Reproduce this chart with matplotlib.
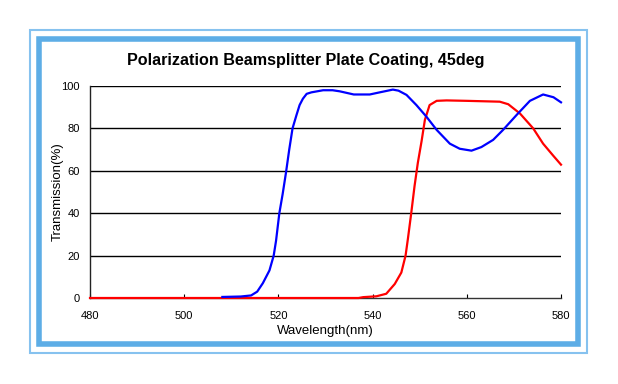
import matplotlib
matplotlib.use("Agg")
import matplotlib.pyplot as plt
from matplotlib.patches import Rectangle

plt.rcParams["font.family"] = ["Liberation Sans", "DejaVu Sans"]

# blue curve
blue_nm = [508.1, 512.0, 514.2, 515.5, 516.7, 518.1, 519.0, 519.5, 520.2, 520.9,
           521.6, 522.3, 523.0, 523.8, 524.5, 525.2, 526.0, 527.0, 529.5, 531.5,
           533.0, 536.0, 539.4, 541.5, 544.3, 545.5, 547.2, 549.3, 551.4, 553.6,
           556.4, 558.5, 561.0, 563.1, 565.6, 567.7, 570.6, 573.4, 576.2, 578.4, 580.0]
blue_t = [0.5, 0.7, 1.2, 3.0, 7.0, 13.0, 20.0, 27.0, 40.0, 49.0,
          59.0, 70.0, 80.0, 86.0, 91.0, 94.0, 96.3, 97.0, 98.0, 98.0,
          97.5, 96.0, 96.0, 97.0, 98.3, 97.8, 95.8, 91.0, 85.6, 79.3,
          72.8, 70.4, 69.5, 71.2, 74.6, 79.3, 86.4, 93.0, 96.0, 94.7, 92.3]

# red curve
red_nm = [480.0, 537.0, 538.0, 540.8, 542.9, 544.7, 546.1, 547.0, 547.5, 548.2,
          548.9, 549.6, 550.4, 551.1, 552.1, 553.6, 555.7, 560.0, 567.0, 568.8,
          571.3, 574.1, 576.2, 578.4, 580.0]
red_t = [0.0, 0.0, 0.4, 0.8, 2.0, 6.6, 12.0, 20.0, 28.0, 40.0,
         52.7, 63.7, 74.0, 84.0, 91.0, 93.0, 93.2, 93.0, 92.6, 91.4,
         87.0, 80.0, 72.8, 67.0, 62.9]

x_ticks = [480, 500, 520, 540, 560, 580]
y_ticks = [0, 20, 40, 60, 80, 100]

W, H = 618, 384
fig = plt.figure(figsize=(W / 100, H / 100), dpi=100)
fig.patch.set_facecolor("white")

# frame: thin outer line and thick inner band
fig.patches.append(Rectangle((29.5 / W, 1 - 353 / H), (587 - 29.5) / W, (353 - 29.5) / H,
                             transform=fig.transFigure, fill=False,
                             edgecolor="#86c2ef", linewidth=1.5))
fig.patches.append(Rectangle((39 / W, 1 - 344 / H), (578 - 39) / W, (344 - 39) / H,
                             transform=fig.transFigure, fill=False,
                             edgecolor="#5dade6", linewidth=4.0))

ax = fig.add_axes([90 / W, 1 - 298 / H, (561 - 90) / W, (298 - 86) / H])
ax.set_xlim(480, 580)
ax.set_ylim(0, 100)

for yv in y_ticks[1:]:
    ax.axhline(yv, color="black", linewidth=1.0, zorder=1)

ax.plot(red_nm, red_t, color="#ff0000", linewidth=1.6, zorder=3, clip_on=False)
ax.plot(blue_nm, blue_t, color="#0000ff", linewidth=1.6, zorder=4, clip_on=False)

ax.set_xticks(x_ticks)
ax.set_yticks(y_ticks)
ax.tick_params(axis="x", direction="in", length=3, width=0.8, labelsize=8, pad=9.5)
ax.tick_params(axis="y", length=0, labelsize=8, pad=7.5)
for s in ("top", "right"):
    ax.spines[s].set_visible(False)
ax.spines["left"].set_color("#222222")
ax.spines["bottom"].set_color("#333333")
ax.spines["left"].set_linewidth(1.0)
ax.spines["bottom"].set_linewidth(1.0)

ax.set_xlabel("Wavelength(nm)", fontsize=9.5, va="center")
ax.xaxis.set_label_coords(0.5, (298 - 331) / 212)
ax.set_ylabel("Transmission(%)", fontsize=9.5, va="center")
ax.yaxis.set_label_coords((58 - 90) / 471, 0.5)

fig.text(306 / W, 1 - 60 / H, "Polarization Beamsplitter Plate Coating, 45deg",
         ha="center", va="center", fontsize=11.6, fontweight="bold")

fig.savefig("out.png", dpi=100)
